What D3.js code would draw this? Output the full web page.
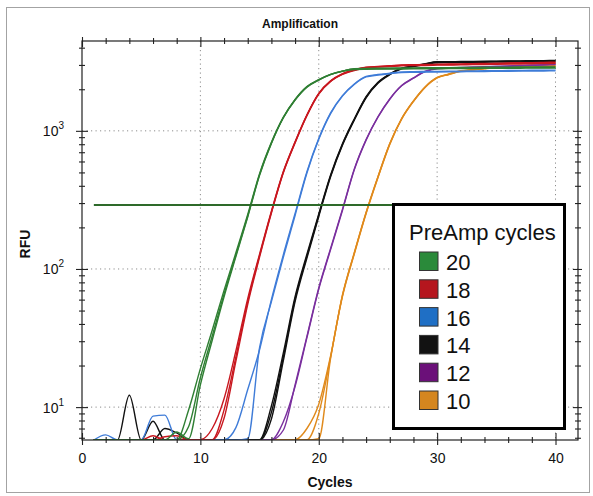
<!DOCTYPE html>
<html>
<head>
<meta charset="utf-8">
<script src="https://cdn.jsdelivr.net/npm/d3@7"></script>
<style>
  body { margin: 0; background: #fff; }
  svg { display: block; font-family: "Liberation Sans", Arial, sans-serif; }
  .grid line { stroke: #8c8c8c; stroke-width: 1; stroke-dasharray: 1.2,3.3; }
  .tk line { stroke: #222; stroke-width: 1.1; }
</style>
</head>
<body>
<div id="chart"></div>
<script>
var width = 593, height = 496;
var pLeft = 82, pRight = 578, pTop = 41, pBottom = 440;

// cycle numbers (x values of every series)
const cycles = [1,2,3,4,5,6,7,8,9,10,11,12,13,14,15,16,17,18,19,20,
                21,22,23,24,25,26,27,28,29,30,31,32,33,34,35,36,37,38,39,40];

// RFU per cycle (values below the axis are hidden baseline)
const pre20a = [5,5,5,5,5,5,5,5,7.2,16.3,32.7,65.8,126,242,482,817,1245,1679,2080,2339,
                2559,2704,2800,2812,2818,2823,2826,2831,2834,2839,2842,2846,2851,2854,2858,2863,2866,2870,2875,2878];
const pre20b = [5,5,5,5,5,5,5,5.5,9.5,19,36,70,131,248,490,825,1250,1690,2095,2350,
                2565,2700,2778,2790,2796,2800,2805,2808,2812,2816,2820,2823,2827,2830,2834,2838,2841,2845,2848,2852];
const pre20c = [5,5,5,5,5,5,5,6.6,5.9,14.5,30.5,63,123,238,476,810,1238,1668,2070,2330,
                2552,2706,2815,2830,2838,2845,2850,2856,2861,2866,2870,2875,2880,2884,2888,2892,2896,2899,2903,2906];

const pre18a = [5,5,5,5,5,5,5,5,5,5,5.8,9.55,23.1,58.1,125,258,500,826,1297,1858,
                2290,2576,2754,2871,2911,2944,2985,2992,3000,3013,3021,3030,3041,3050,3062,3071,3082,3092,3101,3112];
const pre18b = [5,5,5,5,5,6.2,5,5,5,5.8,7.0,11.5,25.5,61,128,262,505,832,1305,1866,
                2300,2590,2770,2885,2926,2960,3000,3010,3020,3034,3043,3054,3064,3075,3086,3097,3108,3118,3129,3140];
const pre18c = [5,5,5,5,5,5,6.1,6.2,5,5,5,8.3,21.5,55.5,122,254,495,818,1288,1848,
                2280,2560,2735,2850,2890,2922,2960,2968,2975,2988,2996,3004,3013,3022,3032,3041,3050,3060,3068,3078];

const pre16a = [5,6.3,5,5,5,5,5,5,5,5,5,5.8,7.1,13.4,26,60,126,252,505,880,
                1350,1800,2185,2480,2555,2612,2668,2680,2688,2695,2701,2707,2713,2719,2725,2731,2737,2742,2746,2750];
const pre16b = [5,5,5,5,5,8.6,8.75,5,5,5,5,5,5,5.9,27,58,121,244,495,868,
                1332,1782,2165,2455,2530,2590,2640,2652,2660,2667,2673,2679,2684,2690,2695,2700,2705,2709,2713,2717];

const pre14a = [5,5,5,12.2,5,5,5,5,5,5,5,5,5,5,5,9.16,22.9,60.5,124,245,
                472,796,1208,1754,2233,2570,2831,2944,3048,3148,3155,3160,3166,3172,3181,3188,3195,3202,3208,3214];
const pre14b = [5,5,5,5,5,7.9,5,5,5,5,5,5,5,5,5.8,10.2,24.5,63,128,250,
                480,805,1218,1765,2245,2580,2840,2955,3060,3160,3168,3174,3181,3188,3196,3203,3210,3217,3224,3230];
const pre14c = [5,5,5,5,5,5,7.0,6.5,5,5,5,5,5,5,5,8.2,21.5,58,120,240,
                465,786,1195,1735,2210,2548,2805,2918,3020,3110,3118,3124,3131,3138,3145,3152,3159,3166,3173,3180];

const pre12a = [5,5,5,5,5,5,5,5,5,5,5,5,5,5,5,5.8,7.8,14.1,31.8,71.5,
                138,265,522,857,1256,1694,2118,2404,2685,2818,2840,2858,2876,2896,2915,2936,2956,2977,2998,3020];
const pre12b = [5,5,5,5,5,5,5,5,5,5,5,5,5,5,5,5.8,6.8,14.5,32.5,73,
                141,270,528,865,1265,1705,2130,2418,2700,2832,2855,2875,2895,2915,2935,2955,2975,2995,3015,3040];

const pre10a = [5,5,5,5,5,5,5,5,5,5,5,5,5,5,5,5,5,5.8,7.0,10.5,
                23.5,64.5,131,257,466,810,1228,1648,2088,2435,2580,2720,2778,2836,2888,2915,2928,2936,2950,2957];
const pre10b = [5,5,5,5,5,5,5,5,5,5,5,5,5,5,5,5,5,5,5.8,9.0,
                23.0,64.1,130,255,463,805,1222,1641,2080,2427,2570,2710,2767,2825,2877,2904,2917,2924,2938,2944];
const pre10c = [5,5,5,5,5,5,5,5,5,5,5,5,5,5,5,5,5,5,5,5.9,
                22.5,63,128,252,458,798,1213,1630,2068,2415,2558,2698,2755,2812,2864,2890,2903,2910,2924,2930];

const threshold = 290;
const thresholdCycles = [1, 40];

const legendLabels = ["20", "18", "16", "14", "12", "10"];
const seriesByGroup = [
  [pre20a, pre20b, pre20c],
  [pre18a, pre18b, pre18c],
  [pre16a, pre16b],
  [pre14a, pre14b, pre14c],
  [pre12a, pre12b],
  [pre10a, pre10b, pre10c]
];
const lineColors   = ["#2f7f33", "#c8171f", "#3f7cd8", "#111111", "#7a2f9e", "#e08a1c"];
const swatchColors = ["#2a8a3a", "#b5161e", "#1f6fc5", "#121212", "#6b1079", "#d4861f"];

const xMajor = [0, 10, 20, 30, 40];
const xMinor = [2,4,6,8,12,14,16,18,22,24,26,28,32,34,36,38];
const yMajor = [10, 100, 1000];
const yMinor = [6,7,8,9,20,30,40,50,60,70,80,90,200,300,400,500,600,700,800,900,2000,3000,4000];

var svg = d3.select('#chart')
  .append('svg')
  .attr('width', width)
  .attr('height', height);

// outer frame
svg.append('rect')
  .attr('x', 6.5).attr('y', 7.5)
  .attr('width', 583).attr('height', 485)
  .attr('fill', 'none')
  .attr('stroke', '#a3a3a3');

var x = d3.scaleLinear().domain([0, 41.9]).range([pLeft, pRight]);
var y = d3.scaleLog().domain([5.78, 4470]).range([pBottom, pTop]).clamp(true);

// grid
var grid = svg.append('g').attr('class', 'grid');
grid.selectAll('.vg').data(xMajor.slice(1)).enter().append('line')
  .attr('x1', d => x(d)).attr('x2', d => x(d))
  .attr('y1', pTop).attr('y2', pBottom);
grid.selectAll('.hg').data(yMajor).enter().append('line')
  .attr('x1', pLeft).attr('x2', pRight)
  .attr('y1', d => y(d)).attr('y2', d => y(d));

svg.append('clipPath').attr('id', 'clip')
  .append('rect')
  .attr('x', pLeft).attr('y', pTop)
  .attr('width', pRight - pLeft).attr('height', pBottom - pTop);

var line = d3.line()
  .x((d, i) => x(cycles[i]))
  .y(d => y(d))
  .curve(d3.curveMonotoneX);

var curves = svg.append('g').attr('clip-path', 'url(#clip)');
// draw later groups first so the early (green) curves end up on top
for (var gi = seriesByGroup.length - 1; gi >= 0; gi--) {
  seriesByGroup[gi].forEach(function(s) {
    curves.append('path')
      .attr('d', line(s))
      .attr('fill', 'none')
      .attr('stroke', lineColors[gi])
      .attr('stroke-width', 1.4)
      .attr('stroke-linejoin', 'round');
  });
}

// threshold line
svg.append('line')
  .attr('x1', x(thresholdCycles[0])).attr('x2', x(thresholdCycles[1]))
  .attr('y1', y(threshold)).attr('y2', y(threshold))
  .attr('stroke', '#2e6a2a')
  .attr('stroke-width', 2);

// legend
var lg = svg.append('g');
lg.append('rect')
  .attr('x', 393.5).attr('y', 204.5)
  .attr('width', 171).attr('height', 224)
  .attr('fill', '#fff')
  .attr('stroke', '#000')
  .attr('stroke-width', 3);
lg.append('text')
  .attr('x', 409).attr('y', 239.5)
  .attr('font-size', '22px')
  .attr('fill', '#111')
  .text('PreAmp cycles');
legendLabels.forEach(function(lab, i) {
  lg.append('rect')
    .attr('x', 419.5).attr('y', 252 + i * 27.8)
    .attr('width', 18.5).attr('height', 18.5)
    .attr('fill', swatchColors[i])
    .attr('stroke', '#333')
    .attr('stroke-width', 1);
  lg.append('text')
    .attr('x', 446).attr('y', 270 + i * 27.8)
    .attr('font-size', '22px')
    .attr('fill', '#111')
    .text(lab);
});

// axes: ticks crossing the frame on all four sides
function ticks(axis, tx, ty) {
  var g = svg.append('g').attr('class', 'tk')
    .attr('transform', 'translate(' + tx + ',' + ty + ')')
    .call(axis);
  g.select('.domain').remove();
  return g;
}
ticks(d3.axisBottom(x).tickValues(xMinor).tickSize(3).tickFormat(''), 0, pBottom);
ticks(d3.axisTop(x).tickValues(xMinor).tickSize(3).tickFormat(''), 0, pBottom);
ticks(d3.axisTop(x).tickValues(xMajor).tickSize(7).tickFormat(''), 0, pBottom);
var xLab = ticks(d3.axisBottom(x).tickValues(xMajor).tickSize(5).tickPadding(8), 0, pBottom);
xLab.selectAll('text').attr('font-size', '14px').attr('fill', '#111')
  .attr('font-family', '"Liberation Sans", Arial, sans-serif');

ticks(d3.axisTop(x).tickValues(xMinor).tickSize(3).tickFormat(''), 0, pTop);
ticks(d3.axisBottom(x).tickValues(xMinor).tickSize(3).tickFormat(''), 0, pTop);
ticks(d3.axisTop(x).tickValues(xMajor).tickSize(4).tickFormat(''), 0, pTop);
ticks(d3.axisBottom(x).tickValues(xMajor).tickSize(6).tickFormat(''), 0, pTop);

ticks(d3.axisLeft(y).tickValues(yMinor).tickSize(3).tickFormat(''), pLeft, 0);
ticks(d3.axisRight(y).tickValues(yMinor).tickSize(3).tickFormat(''), pLeft, 0);
ticks(d3.axisLeft(y).tickValues(yMajor).tickSize(6).tickFormat(''), pLeft, 0);
ticks(d3.axisRight(y).tickValues(yMajor).tickSize(6).tickFormat(''), pLeft, 0);

ticks(d3.axisLeft(y).tickValues(yMinor).tickSize(3).tickFormat(''), pRight, 0);
ticks(d3.axisRight(y).tickValues(yMinor).tickSize(3).tickFormat(''), pRight, 0);
ticks(d3.axisLeft(y).tickValues(yMajor).tickSize(5).tickFormat(''), pRight, 0);
ticks(d3.axisRight(y).tickValues(yMajor).tickSize(4).tickFormat(''), pRight, 0);

// y labels 10^n
var yl = svg.append('g');
yMajor.forEach(function(v) {
  var t = yl.append('text')
    .attr('x', 64).attr('y', y(v) + 5.5)
    .attr('text-anchor', 'end')
    .attr('fill', '#111')
    .attr('font-size', '14px');
  t.append('tspan').text('10');
  t.append('tspan').attr('font-size', '10px').attr('dy', -7).text(String(Math.round(Math.log10(v))));
});

// plot frame
svg.append('rect')
  .attr('x', pLeft).attr('y', pTop)
  .attr('width', pRight - pLeft).attr('height', pBottom - pTop)
  .attr('fill', 'none')
  .attr('stroke', '#222')
  .attr('stroke-width', 1.2);

// titles
svg.append('text')
  .attr('x', 300).attr('y', 28)
  .attr('text-anchor', 'middle')
  .attr('font-size', '12px').attr('font-weight', 'bold')
  .attr('fill', '#111')
  .text('Amplification');

svg.append('text')
  .attr('x', (pLeft + pRight) / 2).attr('y', 487)
  .attr('text-anchor', 'middle')
  .attr('font-size', '14px').attr('font-weight', 'bold')
  .attr('fill', '#111')
  .text('Cycles');

svg.append('text')
  .attr('transform', 'translate(30,244) rotate(-90)')
  .attr('text-anchor', 'middle')
  .attr('font-size', '14px').attr('font-weight', 'bold')
  .attr('fill', '#111')
  .text('RFU');
</script>
</body>
</html>
